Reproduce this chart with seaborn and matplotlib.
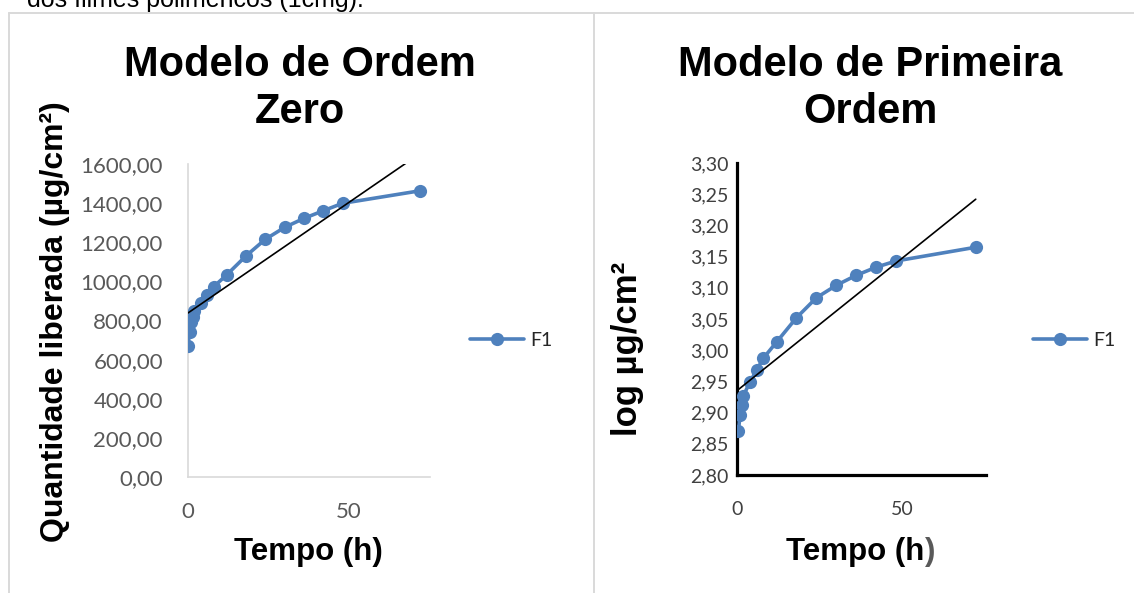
import numpy as np
import matplotlib
matplotlib.use("Agg")
import matplotlib.pyplot as plt
from matplotlib.lines import Line2D
from matplotlib.ticker import FuncFormatter
import seaborn as sns

# Liberação da formulação F1 ao longo do tempo
tempo_zero = [0, 0.5, 1, 1.5, 2, 4, 6, 8, 12, 18, 24, 30, 36, 42, 48, 72]
quantidade_f1 = [672, 743, 790, 820, 850, 888, 930, 973, 1033, 1130,
                 1215, 1276, 1322, 1361, 1399, 1463]

tempo_primeira = [0.5, 1, 1.5, 2, 4, 6, 8, 12, 18, 24, 30, 36, 42, 48, 72]
log_f1 = [2.870, 2.896, 2.912, 2.927, 2.949, 2.968, 2.987, 3.013, 3.052,
          3.084, 3.104, 3.120, 3.133, 3.143, 3.165]

yticks_zero = [0, 200, 400, 600, 800, 1000, 1200, 1400, 1600]
yticks_primeira = [2.80, 2.85, 2.90, 2.95, 3.00, 3.05, 3.10, 3.15, 3.20, 3.25, 3.30]
xticks = [0, 50]

titulo_zero = ["Modelo de Ordem", "Zero"]
titulo_primeira = ["Modelo de Primeira", "Ordem"]
serie = "F1"

AZUL = "#4F81BD"
CINZA = "#D9D9D9"
W, H = 1134, 593

sns.set_theme(style="white")
plt.rcParams["font.family"] = ["Lato", "DejaVu Sans"]
BOLD = ["Liberation Sans", "DejaVu Sans"]

fig = plt.figure(figsize=(W / 100, H / 100), dpi=100)
fig.patch.set_facecolor("white")


def fx(px):
    return px / W


def fy(py):
    return 1 - py / H


# molduras dos dois gráficos
for xs, ys in [((8.5, W), (12.5, 12.5)), ((8.5, 8.5), (12.5, H)), ((593.5, 593.5), (12.5, H))]:
    fig.add_artist(Line2D([fx(x) for x in xs], [fy(y) for y in ys],
                          transform=fig.transFigure, color=CINZA, lw=1.4))

fig.text(fx(27), fy(7), "dos filmes poliméricos (1cmg).", fontsize=18,
         family=BOLD, va="baseline", ha="left", color="black")

virgula = FuncFormatter(lambda v, p: f"{v:.2f}".replace(".", ","))

# ---- Modelo de ordem zero ----
ax1 = fig.add_axes([fx(188), fy(477), 241.5 / W, 313 / H])
sns.lineplot(x=tempo_zero, y=quantidade_f1, ax=ax1, color=AZUL, marker="o",
             markersize=9.5, markeredgewidth=0, linewidth=2.6, label=serie,
             zorder=3)
sns.regplot(x=tempo_zero, y=quantidade_f1, ax=ax1, scatter=False, ci=None,
            truncate=True, color="black", line_kws={"linewidth": 1.2, "zorder": 5})
ax1.set_xlim(0, 75)
ax1.set_ylim(0, 1600)
ax1.set_yticks(yticks_zero)
ax1.set_xticks(xticks)
ax1.yaxis.set_major_formatter(virgula)
for s in ["top", "right"]:
    ax1.spines[s].set_visible(False)
for s in ["left", "bottom"]:
    ax1.spines[s].set_color(CINZA)
    ax1.spines[s].set_linewidth(1.2)
ax1.tick_params(axis="both", direction="out", length=5, width=1.2, color=CINZA,
                labelsize=16, labelcolor="#595959")
ax1.tick_params(axis="y", pad=13)
ax1.tick_params(axis="x", length=0, pad=18)
ax1.set_xlabel("")
ax1.set_ylabel("")
ax1.legend(loc="center left", bbox_to_anchor=(fx(470), fy(340)),
           bbox_transform=fig.transFigure, frameon=False, handlelength=2.8,
           handletextpad=0.3, fontsize=14, borderpad=0, borderaxespad=0)

# ---- Modelo de primeira ordem ----
ax2 = fig.add_axes([fx(736.7), fy(475), 249 / W, 312 / H])
sns.lineplot(x=tempo_primeira, y=log_f1, ax=ax2, color=AZUL, marker="o",
             markersize=9.5, markeredgewidth=0, linewidth=2.6, label=serie,
             zorder=3)
sns.regplot(x=tempo_primeira, y=log_f1, ax=ax2, scatter=False, ci=None,
            truncate=True, color="black", line_kws={"linewidth": 1.2, "zorder": 5})
ax2.set_xlim(0, 75)
ax2.set_ylim(2.80, 3.30)
ax2.set_yticks(yticks_primeira)
ax2.set_xticks(xticks)
ax2.yaxis.set_major_formatter(virgula)
for s in ["top", "right"]:
    ax2.spines[s].set_visible(False)
for s in ["left", "bottom"]:
    ax2.spines[s].set_color("black")
    ax2.spines[s].set_linewidth(2.3)
ax2.tick_params(axis="both", direction="out", length=5, width=2.3, color="black",
                labelsize=14, labelcolor="#404040")
ax2.tick_params(axis="y", pad=1)
ax2.tick_params(axis="x", pad=14)
ax2.set_xlabel("")
ax2.set_ylabel("")
ax2.legend(loc="center left", bbox_to_anchor=(fx(1033), fy(340)),
           bbox_transform=fig.transFigure, frameon=False, handlelength=2.8,
           handletextpad=0.3, fontsize=14, borderpad=0, borderaxespad=0)

# ---- títulos e rótulos ----
for cx, linhas in [(300, titulo_zero), (870, titulo_primeira)]:
    for yb, txt in zip([76, 123], linhas):
        fig.text(fx(cx), fy(yb), txt, ha="center", va="baseline", fontsize=30,
                 fontweight="bold", family=BOLD, color="black")

fig.text(fx(55), fy(322), "Quantidade liberada (µg/cm²)", rotation=90,
         ha="center", va="center", fontsize=23, fontweight="bold", family=BOLD,
         color="black")
fig.text(fx(628), fy(349), "log µg/cm²", rotation=90,
         ha="center", va="center", fontsize=25, fontweight="bold", family=BOLD,
         color="black")

fig.text(fx(308), fy(560), "Tempo (h)", ha="center", va="baseline",
         fontsize=22.5, fontweight="bold", family=BOLD, color="black")
fig.text(fx(924.5), fy(560), "Tempo (h", ha="right", va="baseline",
         fontsize=22.5, fontweight="bold", family=BOLD, color="black")
fig.text(fx(924.5), fy(560), ")", ha="left", va="baseline",
         fontsize=22.5, fontweight="bold", family=BOLD, color="#595959")

fig.savefig("out.png", dpi=100)
